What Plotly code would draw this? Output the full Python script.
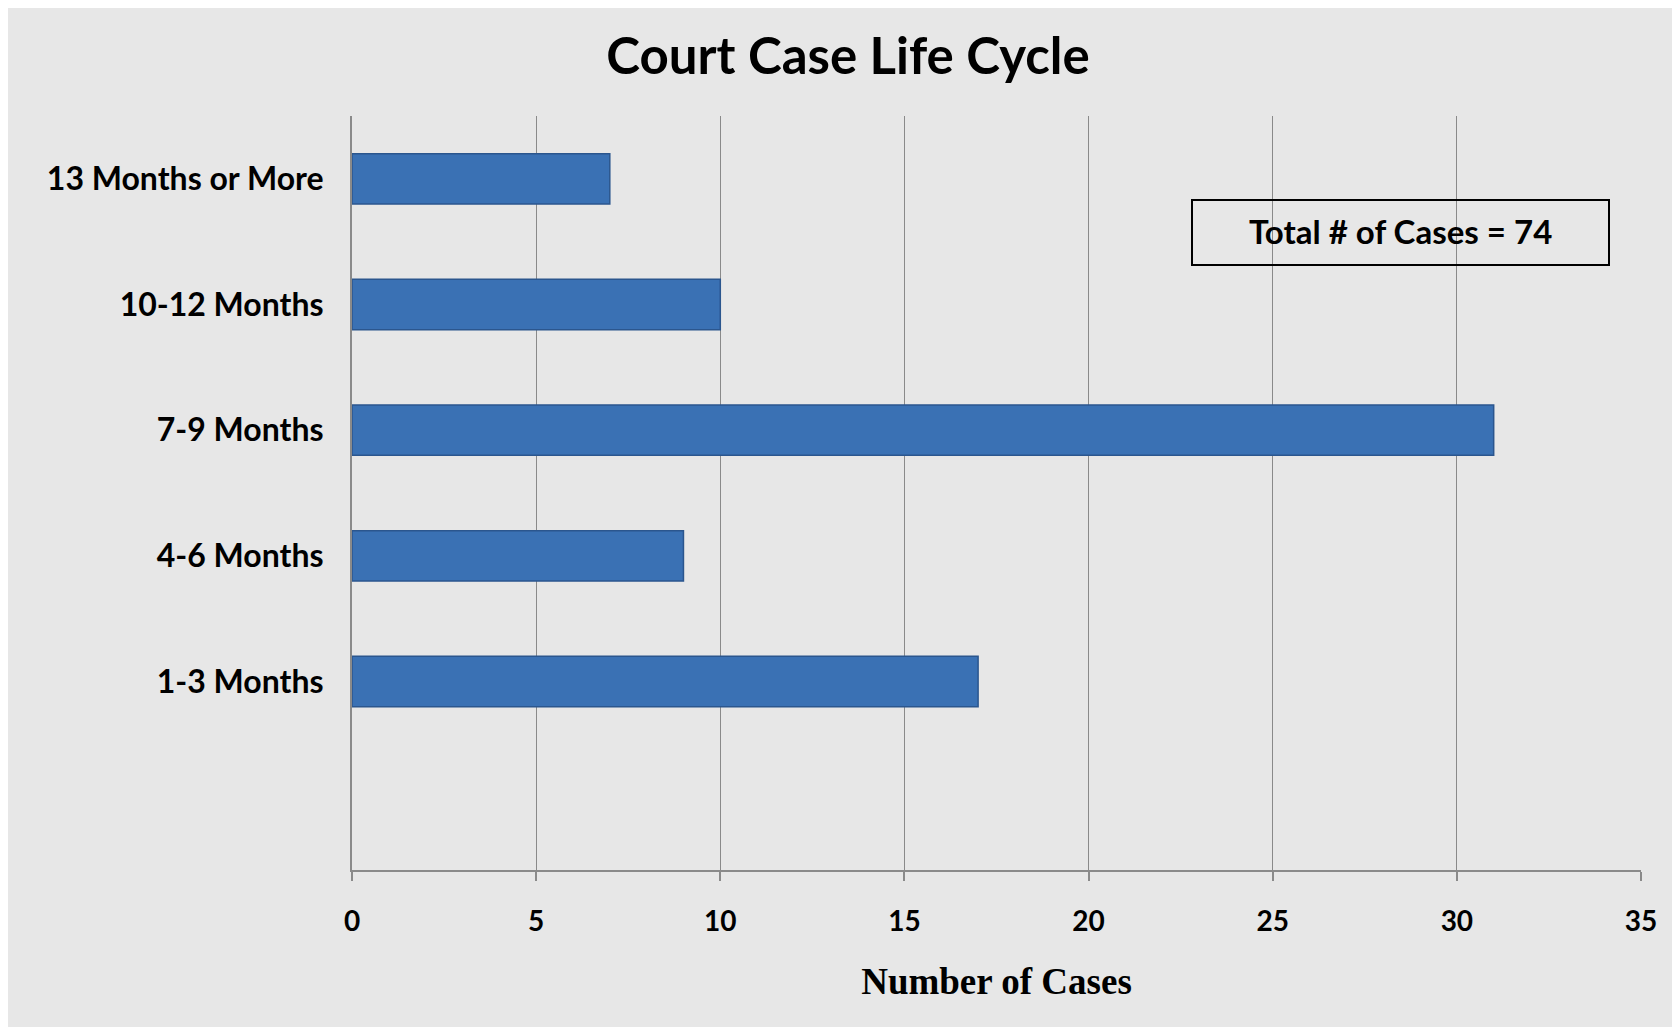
import plotly.graph_objects as go

categories = ["1-3 Months", "4-6 Months", "7-9 Months", "10-12 Months", "13 Months or More"]
cases = [17, 9, 31, 10, 7]
x_ticks = [0, 5, 10, 15, 20, 25, 30, 35]
title_text = "Court Case Life Cycle"
x_title = "Number of Cases"
total_label = "Total # of Cases = 74"

W, H = 1680, 1027
OFF = 8  # page body margin
L, R, T, B = 344, 47, 108, 165
pw, ph = W - L - R, H - T - B

def px_x(p):
    return (p - OFF - L) / pw

def px_y(p):
    return (H - B - (p - OFF)) / ph

fig = go.Figure()
fig.add_trace(go.Bar(
    y=categories, x=cases, orientation="h",
    marker=dict(color="#3a71b4", line=dict(color="#2b568e", width=1.5)),
    width=0.4, hoverinfo="x+y",
))

sans = "Lato, 'Open Sans', sans-serif"

fig.update_layout(
    width=W, height=H,
    margin=dict(l=L, r=R, t=T, b=B, autoexpand=False),
    paper_bgcolor="#e7e7e7",
    plot_bgcolor="rgba(0,0,0,0)",
    showlegend=False,
    title=dict(text="<b>" + title_text + "</b>", x=0.5, xref="container", xanchor="center",
               y=1 - 48 / H, yanchor="middle",
               font=dict(family=sans, size=51, color="black")),
    xaxis=dict(
        range=[0, 35], tickvals=x_ticks, ticktext=[str(v) for v in x_ticks],
        showgrid=True, gridcolor="#8a8a8a", gridwidth=1,
        showline=True, linecolor="#8a8a8a", linewidth=2,
        ticks="outside", ticklen=9, tickcolor="#8a8a8a", tickwidth=1.5,
        tickfont=dict(family=sans, size=28, color="black", weight="bold"),
        ticklabelstandoff=16,
        zeroline=False,
        title=dict(text="<b>" + x_title + "</b>", standoff=33,
                   font=dict(family="'Liberation Serif', 'Times New Roman', serif", size=37, color="black")),
    ),
    yaxis=dict(
        type="category", categoryorder="array", categoryarray=categories,
        range=[-1.5, 4.5],
        showgrid=False, showline=True, linecolor="#8a8a8a", linewidth=2,
        ticks="", tickfont=dict(family=sans, size=32, color="black", weight="bold"),
        ticklabelstandoff=20,
        zeroline=False,
    ),
    shapes=[
        dict(type="rect", xref="paper", yref="paper",
             x0=px_x(1192), x1=px_x(1609), y0=px_y(265), y1=px_y(200),
             fillcolor="rgba(0,0,0,0)", line=dict(color="black", width=2)),
    ],
    annotations=[
        dict(text="<b>" + total_label + "</b>", xref="paper", yref="paper",
             x=px_x(1400), y=px_y(231), xanchor="center", yanchor="middle",
             showarrow=False, font=dict(family=sans, size=33, color="black")),
    ],
)

fig.write_html("out.html")
